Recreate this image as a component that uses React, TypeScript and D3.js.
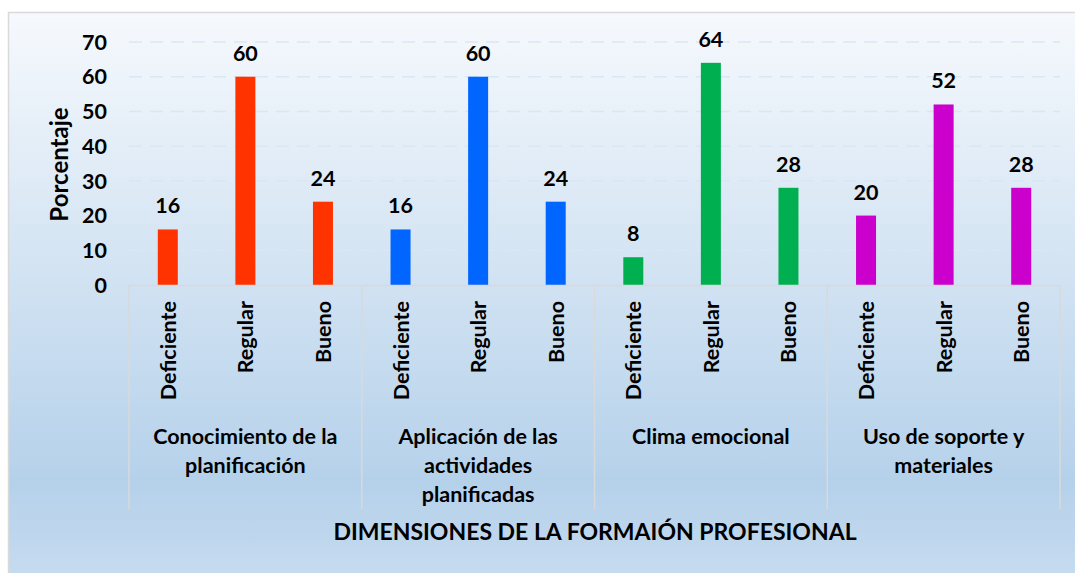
import * as d3 from "d3";

const dimensions = [
  ["Conocimiento de la", "planificación"],
  ["Aplicación de las", "actividades", "planificadas"],
  ["Clima emocional"],
  ["Uso de soporte y", "materiales"],
];
const levels = ["Deficiente", "Regular", "Bueno"];
const colors = ["#ff3300", "#0066ff", "#00b050", "#cc00cc"];
const values = [
  [16, 60, 24],
  [16, 60, 24],
  [8, 64, 28],
  [20, 52, 28],
];
const yTicks = [0, 10, 20, 30, 40, 50, 60, 70];

const W = 1075;
const H = 573;
const plot = { left: 129, right: 1060, top: 42, bottom: 285 };
const FONT = "Lato, 'Open Sans', sans-serif";
const FS = 21.5;

export default function App() {
  const bars = values.flatMap((row, g) =>
    row.map((v, i) => ({ key: `${g}-${i}`, group: g, level: levels[i], value: v }))
  );

  const x = d3
    .scaleBand<string>()
    .domain(bars.map((d) => d.key))
    .range([plot.left, plot.right]);
  const y = d3.scaleLinear().domain([0, 70]).range([plot.bottom, plot.top]);
  const barW = 20;
  const groupW = x.step() * 3;

  return (
    <svg
      width={W}
      height={H}
      style={{ position: "absolute", left: 0, top: 0, fontFamily: FONT }}
    >
      <defs>
        <linearGradient id="bg" x1="0" y1="0" x2="0" y2="1">
          <stop offset="0%" stopColor="#f6f9fd" />
          <stop offset="82%" stopColor="#b5d1ea" />
          <stop offset="100%" stopColor="#c7dcf0" />
        </linearGradient>
      </defs>
      <rect x={0} y={0} width={W} height={H} fill="#ffffff" />
      <rect
        x={8.5}
        y={12.5}
        width={W}
        height={H}
        fill="url(#bg)"
        stroke="#d9d9d9"
        strokeWidth={1.5}
      />

      {/* gridlines */}
      {yTicks
        .filter((t) => t > 0)
        .map((t) => (
          <line
            key={t}
            x1={plot.left}
            x2={plot.right}
            y1={y(t)}
            y2={y(t)}
            stroke="#dbe6f3"
            strokeWidth={1.5}
            strokeDasharray="13 8"
          />
        ))}

      {/* y tick labels */}
      {yTicks.map((t) => (
        <text
          key={t}
          x={107}
          y={y(t)}
          dy="0.36em"
          textAnchor="end"
          fontSize={FS}
          fontWeight="bold"
          fill="#000"
        >
          {t}
        </text>
      ))}

      <text
        transform={`translate(68, ${(plot.top + plot.bottom) / 2 + 1}) rotate(-90)`}
        textAnchor="middle"
        fontSize={24}
        fontWeight="bold"
        fill="#000"
      >
        Porcentaje
      </text>

      {/* bars */}
      {bars.map((d) => (
        <g key={d.key}>
          <rect
            x={x(d.key)! + x.bandwidth() / 2 - barW / 2}
            y={y(d.value)}
            width={barW}
            height={y(0) - y(d.value)}
            fill={colors[d.group]}
          />
          <text
            x={x(d.key)! + x.bandwidth() / 2}
            y={y(d.value) - 16}
            textAnchor="middle"
            fontSize={FS}
            fontWeight="bold"
            fill="#000"
          >
            {d.value}
          </text>
          <text
            transform={`translate(${x(d.key)! + x.bandwidth() / 2 + 8}, 301) rotate(-90)`}
            textAnchor="end"
            fontSize={FS}
            fontWeight="bold"
            fill="#000"
          >
            {d.level}
          </text>
        </g>
      ))}

      {/* category axis lines */}
      <line
        x1={plot.left}
        x2={plot.right}
        y1={plot.bottom + 0.5}
        y2={plot.bottom + 0.5}
        stroke="#d9d9d9"
        strokeWidth={1.5}
      />
      {d3.range(dimensions.length + 1).map((g) => (
        <line
          key={g}
          x1={plot.left + g * groupW}
          x2={plot.left + g * groupW}
          y1={plot.bottom}
          y2={509}
          stroke="#d9d9d9"
          strokeWidth={1.5}
        />
      ))}

      {/* group labels */}
      {dimensions.map((lines, g) => (
        <text
          key={g}
          x={plot.left + g * groupW + groupW / 2}
          y={444}
          textAnchor="middle"
          fontSize={FS}
          fontWeight="bold"
          fill="#000"
        >
          {lines.map((l, i) => (
            <tspan key={i} x={plot.left + g * groupW + groupW / 2} dy={i === 0 ? 0 : 29}>
              {l}
            </tspan>
          ))}
        </text>
      ))}

      <text
        x={595}
        y={540}
        textAnchor="middle"
        fontSize={23}
        fontWeight="bold"
        fill="#000"
      >
        DIMENSIONES DE LA FORMAIÓN PROFESIONAL
      </text>
    </svg>
  );
}
